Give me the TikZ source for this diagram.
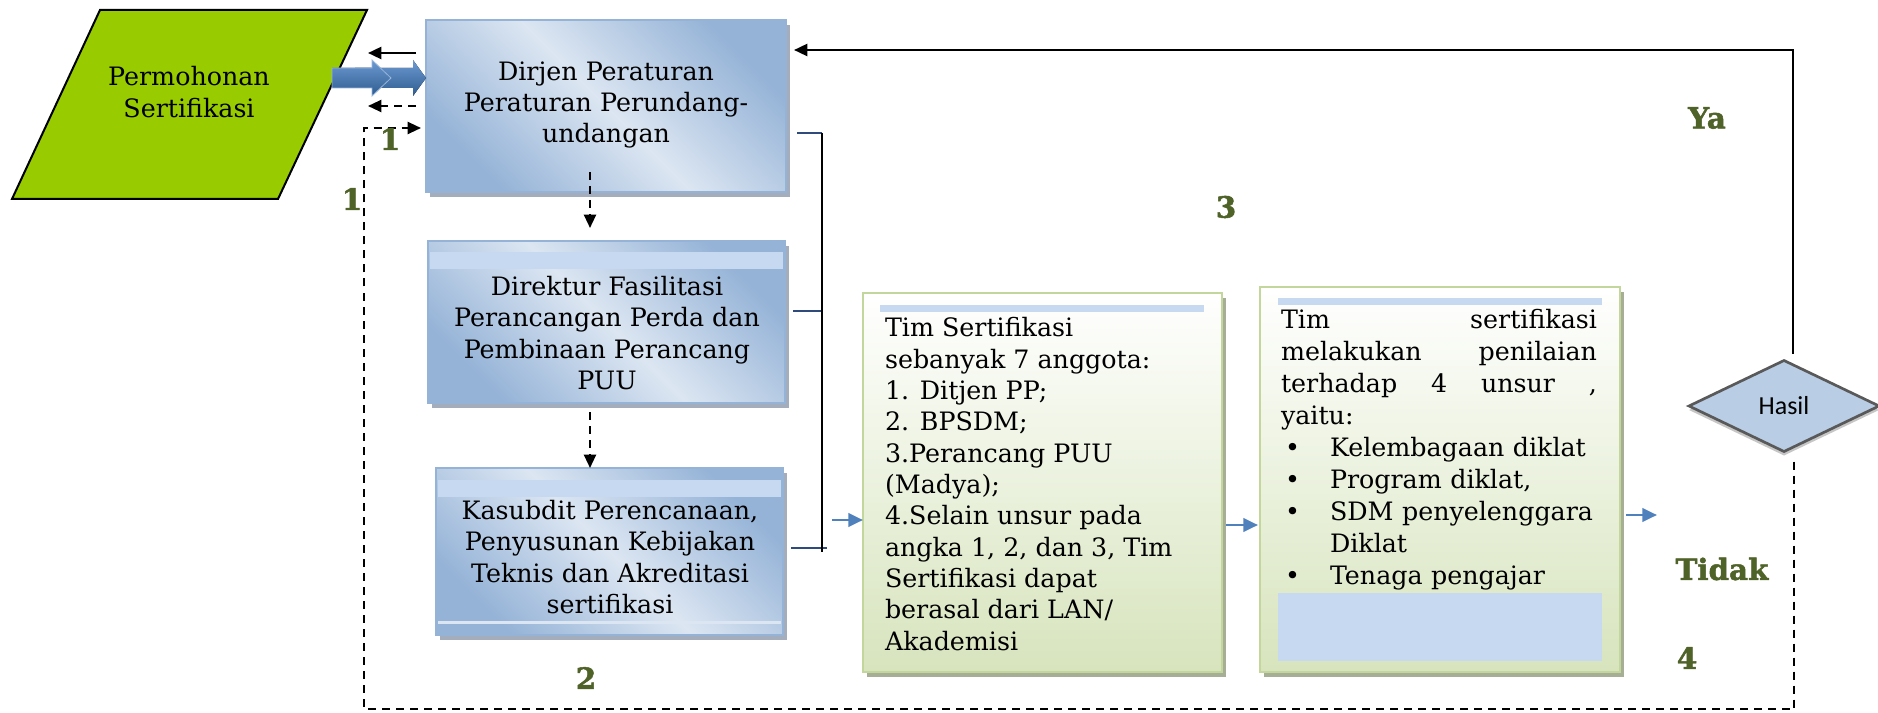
\documentclass[tikz,border=0pt]{standalone}
\usepackage{fontspec}
\setmainfont{DejaVu Serif}
\newfontfamily\calibri{Carlito}
\newfontfamily\lblfont[BoldFeatures={FakeBold=1.6}]{DejaVu Serif}
\usetikzlibrary{shapes.geometric,arrows.meta,shadows,calc}
\definecolor{permgreen}{HTML}{99CC00}
\definecolor{boxborder}{HTML}{95B3D7}
\definecolor{boxdark}{HTML}{95B3D7}
\definecolor{boxlight}{HTML}{DCE6F2}
\definecolor{shadowblue}{HTML}{A3ADBB}
\definecolor{bandblue}{HTML}{C6D9F1}
\definecolor{greenborder}{HTML}{C3D69B}
\definecolor{greenfill}{HTML}{D7E4BD}
\definecolor{shadowgreen}{HTML}{A6AE96}
\definecolor{barblue}{HTML}{C6D9F1}
\definecolor{lblgreen}{HTML}{4F6228}
\definecolor{arrblue}{HTML}{4F81BD}
\definecolor{navyline}{HTML}{2F4B7C}
\definecolor{diamondfill}{HTML}{B9CDE5}
\definecolor{diamondborder}{HTML}{595959}
\definecolor{arrowlight}{HTML}{6C9AD2}
\definecolor{arrowdark}{HTML}{2F5C8F}
\newcommand{\bul}{\makebox[36.75pt][l]{\hspace*{3pt}\textbullet}}
\begin{document}
\begin{tikzpicture}[x=0.75pt,y=-0.75pt,
  every node/.style={inner sep=0pt, outer sep=0pt},
  bluebox/.style={draw=boxborder, line width=1.5pt, top color=boxdark, bottom color=boxdark, middle color=boxlight, shading angle=-45,
    drop shadow={shadow xshift=3pt, shadow yshift=-3.5pt, fill=shadowblue, opacity=1}},
  greenbox/.style={draw=greenborder, line width=2pt, top color=white, bottom color=greenfill,
    drop shadow={shadow xshift=3pt, shadow yshift=-3.5pt, fill=shadowgreen, opacity=1}},
  bodytext/.style={font=\fontsize{19}{23.5}\selectfont, align=center},
  lbl/.style={font=\lblfont\fontsize{22}{26}\selectfont\bfseries, text=lblgreen},
  tip/.style={-{Triangle[length=10pt,width=9pt]}},
  blk/.style={line width=1.8pt, tip},
  dsh/.style={line width=1.6pt, dash pattern=on 6pt off 4.5pt, tip},
  bluearr/.style={draw=arrblue, line width=2.2pt, -{Triangle[length=11pt,width=10pt]}},
  navy/.style={draw=navyline, line width=2pt},
]
\fill[white] (0,0) rectangle (1878,713);
\useasboundingbox (0,0) rectangle (1878,713);

% Permohonan parallelogram
\draw[line width=1.5pt, fill=permgreen] (100,10) -- (367,10) -- (278,199) -- (12,199) -- cycle;
\node[bodytext] (perm) at (189,92) {Permohonan\\Sertifikasi};

% blue boxes
\node[bluebox, minimum width=270pt, minimum height=129pt] (dirjen) at (606,106) {};
\node[bodytext] (dirjenT) at (606,105) {Dirjen Peraturan\\Peraturan Perundang-\\undangan};

\node[bluebox, minimum width=267.75pt, minimum height=121.5pt] (direktur) at (606.5,322) {};
\fill[bandblue] (430,252) rectangle (783,269);
\node[bodytext] (direkturT) at (607,333) {Direktur Fasilitasi\\Perancangan Perda dan\\Pembinaan Perancang\\PUU};

\node[bluebox, minimum width=260.25pt, minimum height=125.25pt] (kasubdit) at (609.5,551.5) {};
\fill[bandblue] (438,480) rectangle (781,497);
\fill[boxlight] (438,621) rectangle (781,624);
\node[bodytext] (kasubditT) at (610,557) {Kasubdit Perencanaan,\\Penyusunan Kebijakan\\Teknis dan Akreditasi\\sertifikasi};

% green boxes
\node[greenbox, minimum width=269.25pt, minimum height=284.25pt] (timbox) at (1042.5,482.5) {};
\fill[barblue] (880,305) rectangle (1204,312);
\node[bodytext, align=left, anchor=west] (timT) at (885,484) {Tim Sertifikasi\\sebanyak 7 anggota:\\1. Ditjen PP;\\2. BPSDM;\\3.Perancang PUU\\(Madya);\\4.Selain unsur pada\\angka 1, 2, dan 3, Tim\\Sertifikasi dapat\\berasal dari LAN/\\Akademisi};

\node[greenbox, minimum width=270pt, minimum height=288.75pt] (nilai) at (1440,479.5) {};
\fill[barblue] (1278,298) rectangle (1602,305);
\fill[barblue] (1278,593) rectangle (1602,661);
\node[font=\fontsize{19}{24}\selectfont, text width=237pt, align=left, anchor=west] (nilaiT) at (1281,450) {Tim\hfill sertifikasi\\melakukan\hfill penilaian\\terhadap\hfill 4\hfill unsur\hfill ,\\yaitu:\\\bul Kelembagaan diklat\\\bul Program diklat,\\\bul SDM penyelenggara\\\hspace*{36.75pt}Diklat\\\bul Tenaga pengajar};

% decision
\node[diamond, draw=diamondborder, line width=2pt, fill=diamondfill, minimum width=142.5pt, minimum height=68.25pt, aspect=2.09,
  drop shadow={shadow xshift=0pt, shadow yshift=-3pt, fill=gray!45, opacity=1}] (hasil) at (1784,406) {\calibri\fontsize{19.5}{22}\selectfont Hasil};

% big blue arrow (Permohonan -> Dirjen)
\fill[top color=arrowlight, bottom color=arrowdark] (355,68) -- (413,68) -- (413,60) -- (426,78) -- (413,96) -- (413,88) -- (355,88) -- cycle;
\fill[top color=arrowlight, bottom color=arrowdark, draw=arrowlight!70!white, line width=0.6pt] (332,68) -- (372,68) -- (372,60) -- (391,78) -- (372,96) -- (372,88) -- (332,88) -- cycle;

% arrows back to Permohonan
\draw[blk] ($(dirjen.west)+(-10,-53)$) -- ++(-48,0);
\draw[dsh] ($(dirjen.west)+(-10,0)$) -- ++(-48,0);

% dashed chain down
\draw[dsh] ($(dirjen.south)+(-16,-20)$) -- ($(direktur.north)+(-16.5,-13)$);
\draw[dsh] ($(direktur.south)+(-16.5,9)$) -- ($(kasubdit.north)+(-19.5,0)$);

% bracket
\coordinate (brTop) at (822,133);
\coordinate (brBot) at (822,552);
\draw[navy] ($(dirjen.east)+(11,27)$) -- (brTop);
\draw[navy] ($(direktur.east)+(8,-11)$) -- (822,311);
\draw[navy] ($(kasubdit.east)+(8,-3.5)$) -- (827,548);
\draw[line width=1.5pt] (brTop) -- (brBot);

% blue arrows
\draw[bluearr] ($(timbox.west)+(-31,37.5)$) -- ($(timbox.west)+(0,37.5)$);
\draw[bluearr] ($(timbox.east)+(4,42.5)$) -- ($(nilai.west)+(-2,45.5)$);
\draw[bluearr] ($(nilai.east)+(6,35.5)$) -- ++(31,0);

% Ya loop
\draw[blk] ($(hasil.north)+(9,-7)$) |- ($(dirjen.north east)+(8,30)$);

% Tidak loop
\coordinate (loopCorner) at (364,709);
\draw[dsh] ($(hasil.south)+(10,10)$) |- (loopCorner) |- ($(dirjen.west)+(-5,22)$);

% labels
\node[lbl] (l1a) at (390,139) {1};
\node[lbl] (l1b) at (352,199) {1};
\node[lbl] (l2) at (586,678) {2};
\node[lbl] (l3) at (1226,207) {3};
\node[lbl] (l4) at (1687,658) {4};
\node[lbl] (ya) at (1707,118) {Ya};
\node[lbl] (tidak) at (1722,569) {Tidak};
\end{tikzpicture}
\end{document}
